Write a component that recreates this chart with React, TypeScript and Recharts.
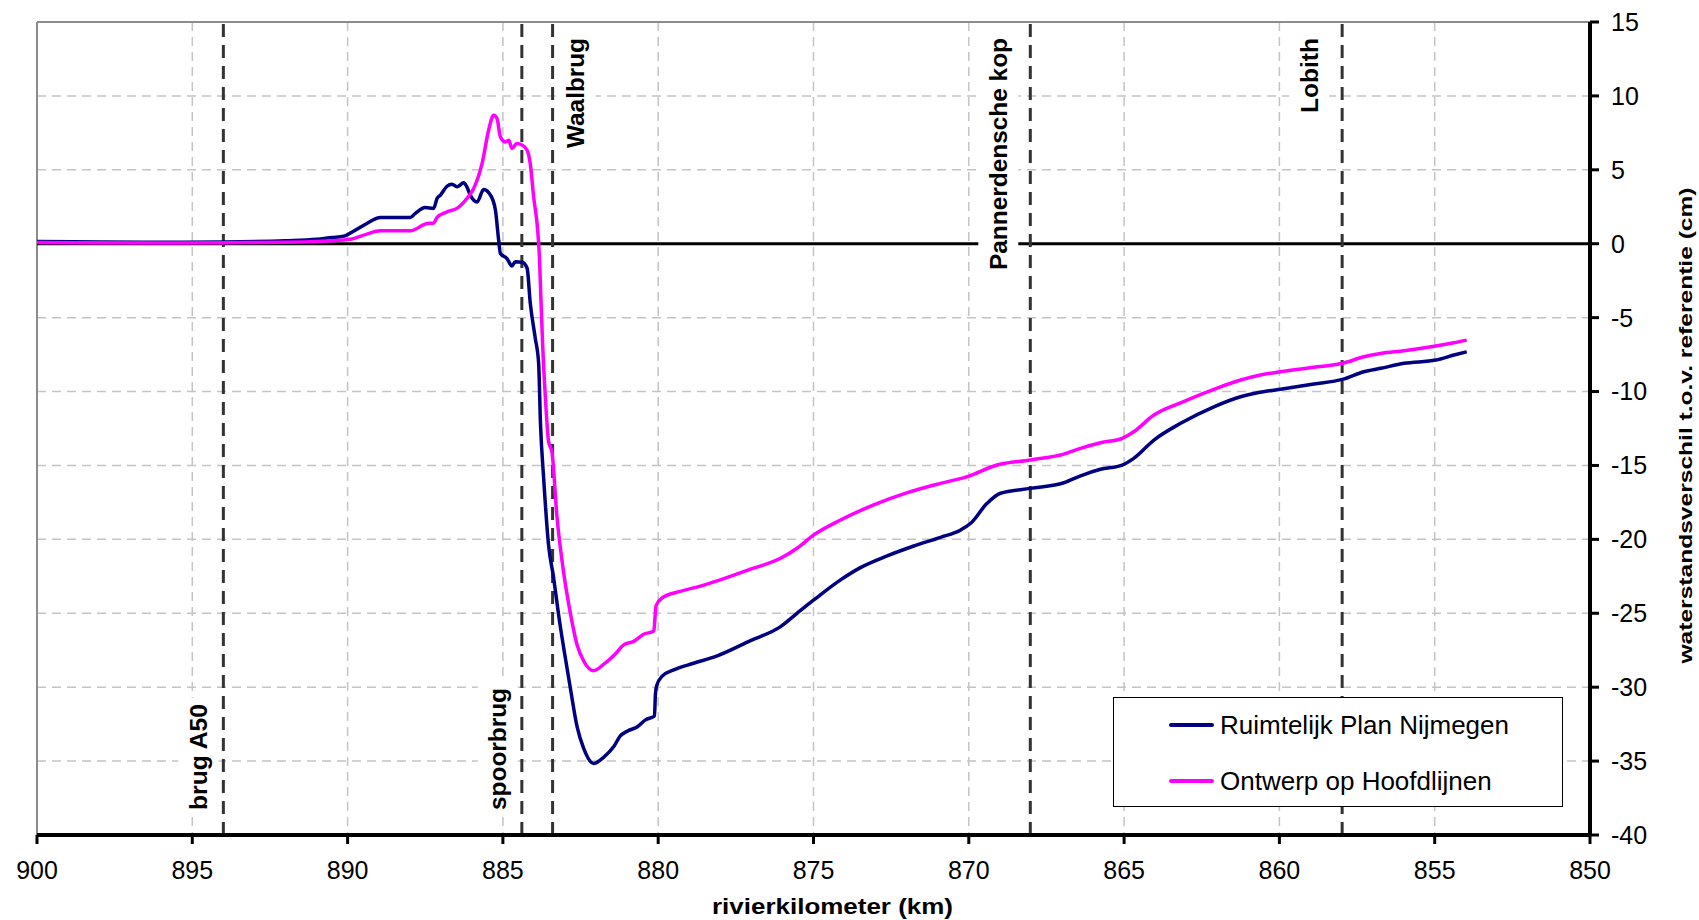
import React from "react";
import { CartesianGrid, Line, LineChart, ReferenceLine, XAxis, YAxis } from "recharts";

// rivierkilometer (km) and waterstandsverschil (cm)
const KM_PLAN = [
  900, 898, 896, 894, 892, 891, 890.5, 890.13, 889.81, 889.38, 888.95, 887.98, 887.82, 887.5, 887.23, 887.12,
  887.01, 886.8, 886.64, 886.48, 886.26, 886.16, 886.05, 885.83, 885.62, 885.4, 885.24, 885.14, 885.08, 884.87,
  884.71, 884.6, 884.38, 884.22, 884.12, 883.96, 883.85, 883.79, 883.69, 883.53, 883.37, 883.2, 883.04, 882.83,
  882.61, 882.4, 882.08, 881.76, 881.43, 881.22, 881.0, 880.68, 880.41, 880.12, 880.09, 880.05, 879.87, 879.5,
  878.86, 878.1, 877.03, 876.06, 875.53, 874.99, 874.13, 873.49, 872.63, 871.77, 870.91, 870.26, 869.94, 869.41,
  868.98, 868.01, 866.94, 866.4, 865.76, 865.06, 864.69, 864.04, 863.18, 862.11, 861.25, 860.71, 859.96, 858.89,
  857.97, 857.28, 856.74, 855.99, 854.96, 854.38, 853.97
];
const PLAN_NIJMEGEN = [
  0.15, 0.12, 0.1, 0.12, 0.2, 0.3, 0.42, 0.5, 0.85, 1.37, 1.78, 1.78, 2.05, 2.45, 2.39, 3.06,
  3.29, 3.89, 4.03, 3.85, 4.12, 3.85, 3.29, 2.83, 3.67, 3.29, 2.27, 0.3, -0.66, -1.0,
  -1.5, -1.22, -1.25, -1.66, -4.0, -6.37, -8.07, -12.17, -15.79, -20.38, -22.55, -25.2, -27.38, -30.04,
  -32.69, -34.14, -35.16, -34.75, -34.02, -33.3, -32.98, -32.69, -32.21, -31.95, -30.5, -29.9, -29.25, -28.83,
  -28.38, -27.88, -26.85, -25.9, -25.0, -24.1, -22.74, -21.91, -21.12, -20.45, -19.86, -19.36, -18.91, -17.56,
  -16.88, -16.55, -16.17, -15.7, -15.26, -14.97, -14.52, -13.28, -12.15, -11.03, -10.35, -10.08, -9.85, -9.49,
  -9.18, -8.66, -8.43, -8.09, -7.87, -7.53, -7.31
];

const KM_ONTWERP = [
  900, 896, 894, 892, 891, 890.5, 889.92, 889.38, 888.95, 887.98, 887.44, 887.23, 887.12, 886.8, 886.48, 886.16,
  885.94, 885.67, 885.46, 885.3, 885.19, 885.08, 884.92, 884.81, 884.71, 884.55, 884.38, 884.22, 884.12, 884.01,
  883.88, 883.82, 883.78, 883.72, 883.63, 883.53, 883.42, 883.26, 883.04, 882.83, 882.61, 882.4, 882.08, 881.76,
  881.43, 881.11, 880.79, 880.47, 880.14, 880.1, 880.07, 879.87, 879.29, 878.64, 878.0, 877.03, 876.06, 875.53,
  874.99, 874.13, 873.06, 871.98, 870.91, 870.05, 869.09, 868.01, 866.94, 866.4, 865.76, 865.06, 864.69, 864.04,
  863.18, 862.11, 861.25, 860.61, 859.96, 858.89, 857.97, 857.28, 856.74, 855.99, 854.96, 854.38, 853.97
];
const ONTWERP_HOOFDLIJNEN = [
  0.08, 0.05, 0.07, 0.1, 0.15, 0.2, 0.3, 0.65, 0.87, 0.87, 1.37, 1.4, 1.78, 2.16, 2.39, 3.06,
  3.74, 5.43, 7.68, 8.69, 8.47, 7.23, 6.89, 7.0, 6.44, 6.78, 6.67, 6.33, 5.43, 3.17,
  0.9, -1.1, -3.5, -6.86, -10.48, -13.37, -14.1, -18.44, -22.31, -24.97, -27.14, -28.23, -28.88, -28.46,
  -27.86, -27.14, -26.9, -26.42, -26.2, -25.2, -24.5, -23.95, -23.52, -23.16, -22.74, -22.02, -21.28, -20.6,
  -19.7, -18.69, -17.67, -16.84, -16.21, -15.76, -14.97, -14.63, -14.23, -13.84, -13.46, -13.16, -12.72, -11.59,
  -10.76, -9.85, -9.22, -8.88, -8.66, -8.36, -8.09, -7.65, -7.42, -7.24, -6.92, -6.7, -6.52
];

const X_TICKS = [900, 895, 890, 885, 880, 875, 870, 865, 860, 855, 850];
const Y_TICKS = [15, 10, 5, 0, -5, -10, -15, -20, -25, -30, -35, -40];

// bridges / locations along the river
const MARKER_KM = [894.0, 884.39, 883.4, 868.02, 857.98];
const MARKER_NAMES = ["brug A50", "spoorbrug", "Waalbrug", "Pannerdensche kop", "Lobith"];

// label placement per marker (side of chart, offset from line, text length)
const MARKER_STYLE = [
  { pos: "bottom", dx: -25, len: 106 },
  { pos: "bottom", dx: -24, len: 122 },
  { pos: "top", dx: 23, len: 110 },
  { pos: "top", dx: -32, len: 232 },
  { pos: "top", dx: -33, len: 75 }
];

const FONT = '"Liberation Sans", Arial, Helvetica, sans-serif';

const planData = KM_PLAN.map((km, i) => ({ km, value: PLAN_NIJMEGEN[i] }));
const ontwerpData = KM_ONTWERP.map((km, i) => ({ km, value: ONTWERP_HOOFDLIJNEN[i] }));

const MarkerLabel = ({ viewBox, text, pos, dx, len }: any) => {
  if (!viewBox) return null;
  const x = viewBox.x + dx;
  if (pos === "top") {
    const y = viewBox.y + 16;
    return (
      <g>
        <rect x={x - 20} y={viewBox.y + 2} width={40} height={len + 22} fill="#fff" />
        <text
          x={x}
          y={y}
          transform={`rotate(-90 ${x} ${y})`}
          textAnchor="end"
          dominantBaseline="central"
          fontFamily={FONT}
          fontWeight="bold"
          fontSize={24}
          fill="#000"
          textLength={len}
          lengthAdjust="spacingAndGlyphs"
        >
          {text}
        </text>
      </g>
    );
  }
  const y = viewBox.y + viewBox.height - 25;
  return (
    <g>
      <rect x={x - 20} y={y - len - 6} width={40} height={len + 12} fill="#fff" />
      <text
        x={x}
        y={y}
        transform={`rotate(-90 ${x} ${y})`}
        textAnchor="start"
        dominantBaseline="central"
        fontFamily={FONT}
        fontWeight="bold"
        fontSize={24}
        fill="#000"
        textLength={len}
        lengthAdjust="spacingAndGlyphs"
      >
        {text}
      </text>
    </g>
  );
};

const XTitle = ({ viewBox }: any) => {
  if (!viewBox) return null;
  return (
    <text
      x={viewBox.x + viewBox.width / 2 + 19}
      y={viewBox.y + 71}
      textAnchor="middle"
      dominantBaseline="central"
      fontFamily={FONT}
      fontWeight="bold"
      fontSize={22}
      fill="#000"
      textLength={241}
      lengthAdjust="spacingAndGlyphs"
    >
      rivierkilometer (km)
    </text>
  );
};

const YTitle = ({ viewBox }: any) => {
  if (!viewBox) return null;
  const x = viewBox.x + 95;
  const y = viewBox.y + viewBox.height / 2 - 3;
  return (
    <text
      x={x}
      y={y}
      transform={`rotate(-90 ${x} ${y})`}
      textAnchor="middle"
      dominantBaseline="central"
      fontFamily={FONT}
      fontWeight="bold"
      fontSize={19}
      fill="#000"
      textLength={476}
      lengthAdjust="spacingAndGlyphs"
    >
      waterstandsverschil t.o.v. referentie (cm)
    </text>
  );
};

const LEGEND_ITEMS = [
  { name: "Ruimtelijk Plan Nijmegen", color: "#000080" },
  { name: "Ontwerp op Hoofdlijnen", color: "#ff00ff" }
];

export default function App() {
  return (
    <div style={{ position: "absolute", left: 0, top: 0, width: 1699, height: 920, background: "#fff" }}>
      <LineChart width={1699} height={920} margin={{ top: 22, right: 0, left: 37, bottom: 0 }}>
        <CartesianGrid stroke="#c4c4c4" strokeWidth={1.5} strokeDasharray="9 6" />
        <XAxis
          type="number"
          dataKey="km"
          domain={[850, 900]}
          reversed
          ticks={X_TICKS}
          interval={0}
          height={85}
          axisLine={{ stroke: "#000", strokeWidth: 4 }}
          tickLine={{ stroke: "#000", strokeWidth: 3 }}
          tickSize={9}
          tickMargin={17}
          tick={{ fontSize: 25, fill: "#000", fontFamily: FONT }}
          label={<XTitle />}
        />
        <YAxis
          type="number"
          orientation="right"
          domain={[-40, 15]}
          ticks={Y_TICKS}
          interval={0}
          width={109}
          axisLine={{ stroke: "#000", strokeWidth: 4 }}
          tickLine={{ stroke: "#000", strokeWidth: 3 }}
          tickSize={9}
          tickMargin={12}
          tick={{ fontSize: 25, fill: "#000", fontFamily: FONT, textAnchor: "start" }}
          label={<YTitle />}
        />
        <ReferenceLine y={15} stroke="#8c8c8c" strokeWidth={2} />
        <ReferenceLine x={900} stroke="#8c8c8c" strokeWidth={2} />
        <ReferenceLine y={0} stroke="#000" strokeWidth={3} />
        {MARKER_KM.map((km, i) => (
          <ReferenceLine
            key={MARKER_NAMES[i]}
            x={km}
            stroke="#333"
            strokeWidth={3}
            strokeDasharray="13 8"
            label={<MarkerLabel text={MARKER_NAMES[i]} {...MARKER_STYLE[i]} />}
          />
        ))}
        <Line
          data={planData}
          dataKey="value"
          name="Ruimtelijk Plan Nijmegen"
          type="monotone"
          stroke="#000080"
          strokeWidth={3.5}
          dot={false}
          activeDot={false}
          isAnimationActive={false}
        />
        <Line
          data={ontwerpData}
          dataKey="value"
          name="Ontwerp op Hoofdlijnen"
          type="monotone"
          stroke="#ff00ff"
          strokeWidth={3.5}
          dot={false}
          activeDot={false}
          isAnimationActive={false}
        />
      </LineChart>
      <div
        style={{
          position: "absolute",
          left: 1113,
          top: 697,
          width: 448,
          height: 108,
          border: "1.5px solid #000",
          background: "#fff",
          fontFamily: FONT,
          fontSize: 26,
          color: "#000"
        }}
      >
        {LEGEND_ITEMS.map((item, i) => (
          <div
            key={item.name}
            style={{ position: "absolute", left: 0, top: i === 0 ? 27 : 83, display: "flex", alignItems: "center", transform: "translateY(-50%)" }}
          >
            <span style={{ display: "inline-block", marginLeft: 55, width: 45, height: 4, borderRadius: 2, background: item.color }} />
            <span style={{ marginLeft: 6, whiteSpace: "nowrap", lineHeight: "30px" }}>{item.name}</span>
          </div>
        ))}
      </div>
    </div>
  );
}
